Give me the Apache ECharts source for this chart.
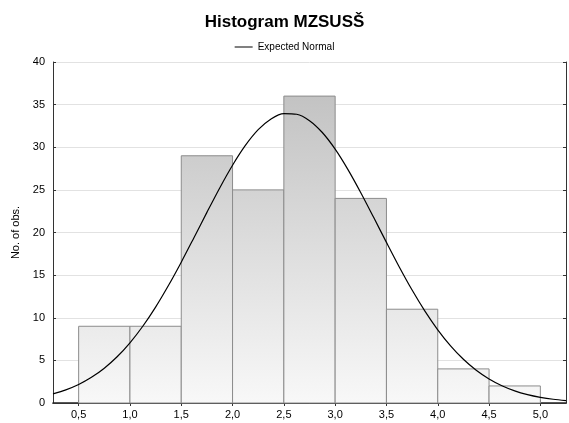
<!DOCTYPE html>
<html>
<head>
<meta charset="utf-8">
<script src="https://cdn.jsdelivr.net/npm/echarts@6/dist/echarts.min.js"></script>
<style>
  html, body { margin: 0; padding: 0; background: #fff; }
  #chart { width: 569px; height: 423px; }
</style>
</head>
<body>
<div id="chart"></div>
<script>
// histogram bins (start of each 0.5 wide bin) and counts
const binStarts = [0.5, 1.0, 1.5, 2.0, 2.5, 3.0, 3.5, 4.0, 4.5]
const binWidth = 0.5
const counts = [9, 9, 29, 25, 36, 24, 11, 4, 2]

// expected normal curve, every 0.125
const curveX = [
  0.25, 0.375, 0.5, 0.625, 0.75, 0.875, 1.0, 1.125, 1.25, 1.375,
  1.5, 1.625, 1.75, 1.875, 2.0, 2.125, 2.25, 2.375, 2.5, 2.625,
  2.75, 2.875, 3.0, 3.125, 3.25, 3.375, 3.5, 3.625, 3.75, 3.875,
  4.0, 4.125, 4.25, 4.375, 4.5, 4.625, 4.75, 4.875, 5.0, 5.125, 5.25,
]
const curveY = [
  1.07, 1.54, 2.17, 3.01, 4.08, 5.42, 7.06, 9.0, 11.25, 13.78,
  16.52, 19.42, 22.36, 25.23, 27.89, 30.21, 32.06, 33.32, 33.95, 33.87,
  33.12, 31.73, 29.78, 27.38, 24.67, 21.78, 18.84, 15.96, 13.25, 10.78,
  8.59, 6.71, 5.13, 3.84, 2.82, 2.03, 1.43, 0.99, 0.67, 0.44, 0.29,
]

const xTicks = [0.5, 1.0, 1.5, 2.0, 2.5, 3.0, 3.5, 4.0, 4.5, 5.0]
const yTicks = [0, 5, 10, 15, 20, 25, 30, 35, 40]

const chart = echarts.init(document.getElementById('chart'))

const gridTop = 62
const gridBottom = 20
const plotBottomPx = 423 - gridBottom

const barFill = new echarts.graphic.LinearGradient(0, gridTop, 0, plotBottomPx, [
  { offset: 0, color: '#bdbdbd' },
  { offset: 1, color: '#f8f8f8' },
], true)

const axisFont = { fontFamily: 'Liberation Sans, Arial, sans-serif', fontSize: 11, color: '#000' }

const option = {
  animation: false,
  title: {
    text: 'Histogram MZSUSŠ',
    left: 'center',
    top: 9,
    textStyle: { fontFamily: 'Liberation Sans, Arial, sans-serif', fontSize: 17, fontWeight: 'bold', color: '#000' },
  },
  legend: {
    top: 37,
    left: 'center',
    itemWidth: 18,
    itemHeight: 8,
    itemGap: 4,
    textStyle: { fontFamily: 'Liberation Sans, Arial, sans-serif', fontSize: 10, color: '#000' },
    data: [{ name: 'Expected Normal', icon: 'path://M0,4 L18,4 L18,5 L0,5 Z' }],
  },
  grid: { left: 53, right: 3, top: gridTop, bottom: gridBottom },
  xAxis: [
    {
      type: 'value',
      min: 0.25,
      max: 5.25,
      axisLine: { show: true, lineStyle: { color: '#222', width: 1.5 } },
      axisTick: { show: true, inside: true, length: 3, customValues: xTicks, lineStyle: { color: '#222' } },
      axisLabel: {
        ...axisFont,
        margin: 6,
        customValues: xTicks,
        formatter: v => v.toFixed(1).replace('.', ','),
      },
      splitLine: { show: false },
    },
    {
      type: 'value',
      position: 'top',
      min: 0.25,
      max: 5.25,
      axisLine: { show: true, lineStyle: { color: '#333', width: 1 } },
      axisTick: { show: true, inside: true, length: 3, customValues: xTicks, lineStyle: { color: '#333' } },
      axisLabel: { show: false },
      splitLine: { show: false },
    },
  ],
  yAxis: [
    {
      type: 'value',
      min: 0,
      max: 40,
      interval: 5,
      name: 'No. of obs.',
      nameLocation: 'middle',
      nameGap: 26,
      nameTextStyle: { ...axisFont },
      axisLine: { show: true, lineStyle: { color: '#333', width: 1 } },
      axisTick: { show: true, inside: true, length: 3, lineStyle: { color: '#333' } },
      axisLabel: { ...axisFont, margin: 8, customValues: yTicks },
      splitLine: { show: true, lineStyle: { color: '#e2e2e2', width: 1 } },
    },
    {
      type: 'value',
      position: 'right',
      min: 0,
      max: 40,
      interval: 5,
      axisLine: { show: true, lineStyle: { color: '#333', width: 1 } },
      axisTick: { show: true, inside: true, length: 3, lineStyle: { color: '#333' } },
      axisLabel: { show: false },
      splitLine: { show: false },
    },
  ],
  series: [
    {
      name: 'Histogram',
      type: 'custom',
      xAxisIndex: 0,
      yAxisIndex: 0,
      z: 2,
      data: binStarts.map((s, i) => [s, s + binWidth, counts[i]]),
      renderItem: (params, api) => {
        const p0 = api.coord([api.value(0), api.value(2)])
        const p1 = api.coord([api.value(1), 0])
        return {
          type: 'rect',
          shape: { x: p0[0], y: p0[1], width: p1[0] - p0[0], height: p1[1] - p0[1] },
          style: { fill: barFill, stroke: '#8c8c8c', lineWidth: 1 },
        }
      },
    },
    {
      name: 'Expected Normal',
      type: 'line',
      xAxisIndex: 0,
      yAxisIndex: 0,
      z: 3,
      smooth: 0.3,
      showSymbol: false,
      symbol: 'none',
      lineStyle: { color: '#000', width: 1.2 },
      itemStyle: { color: '#000' },
      data: curveX.map((x, i) => [x, curveY[i]]),
    },
  ],
}

chart.setOption(option)
</script>
</body>
</html>
